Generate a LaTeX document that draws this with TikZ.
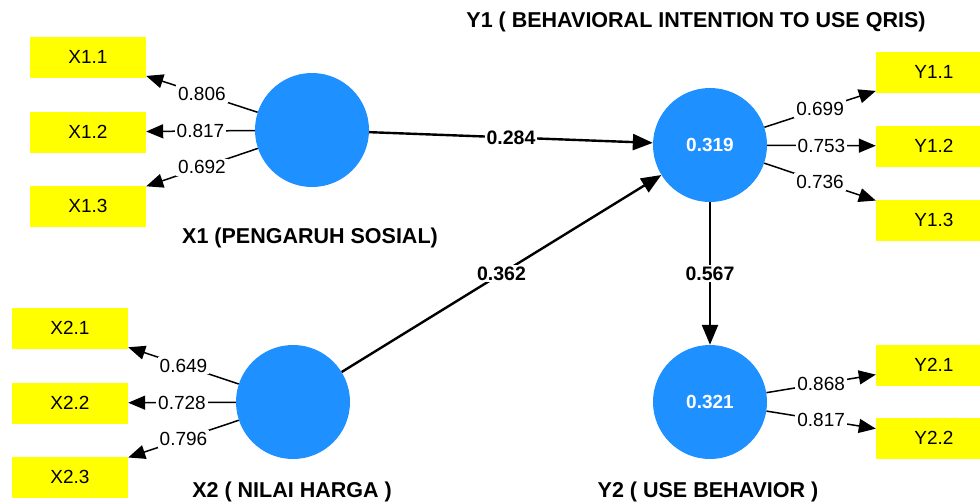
\documentclass[tikz,border=0pt]{standalone}
\usepackage{fontspec}
\setmainfont{Liberation Sans}
\usetikzlibrary{arrows.meta}
\definecolor{latent}{HTML}{1E90FF}
\definecolor{indic}{HTML}{FFFF00}
\tikzset{
  lv/.style={circle, fill=latent, draw=none, minimum size=114pt, inner sep=0pt,
    text=white, font=\fontsize{19}{22}\selectfont\bfseries},
  mv/.style={rectangle, fill=indic, draw=none, minimum width=116pt, minimum height=41pt,
    inner sep=0pt, font=\fontsize{19}{22}\selectfont},
  title/.style={font=\fontsize{21.5}{24}\selectfont\bfseries, inner sep=0pt},
  load/.style={draw=black, line width=1.5pt, -{Triangle[length=17pt,width=14pt]}},
  path/.style={draw=black, line width=2.4pt, -{Triangle[length=20pt,width=16pt]}},
  lbl/.style={fill=white, inner sep=2pt, font=\fontsize{19}{22}\selectfont},
  plbl/.style={fill=white, inner sep=2pt, font=\fontsize{19.5}{22}\selectfont\bfseries},
}
\begin{document}
\begin{tikzpicture}[x=1pt,y=-1pt]
\clip (0,0) rectangle (980,501);
\fill[white] (0,0) rectangle (980,501);
% latent variables
\node[lv] (x1) at (312,130) {};
\node[lv] (x2) at (293,402) {};
\node[lv] (y1) at (710,145) {0.319};
\node[lv] (y2) at (710,402) {0.321};
% indicators
\node[mv] (x11) at (88,57) {X1.1};
\node[mv] (x12) at (88,132) {X1.2};
\node[mv] (x13) at (88,206) {X1.3};
\node[mv] (x21) at (70,328) {X2.1};
\node[mv] (x22) at (70,403) {X2.2};
\node[mv] (x23) at (70,477) {X2.3};
\node[mv] (y11) at (934,72) {Y1.1};
\node[mv] (y12) at (934,146) {Y1.2};
\node[mv] (y13) at (934,220) {Y1.3};
\node[mv] (y21) at (934,365) {Y2.1};
\node[mv] (y22) at (934,438) {Y2.2};
% titles
\node[title] (tx1) at (310,238) {X1 (PENGARUH SOSIAL)};
\node[title] (tx2) at (292,492) {X2 ( NILAI HARGA )};
\node[title] (ty1) at (696,22) {Y1 ( BEHAVIORAL INTENTION TO USE QRIS)};
\node[title] (ty2) at (708,492) {Y2 ( USE BEHAVIOR )};
% loadings
\draw[load] (x1) -- node[lbl] {0.806} (x11);
\draw[load] (x1) -- node[lbl] {0.817} (x12);
\draw[load] (x1) -- node[lbl] {0.692} (x13);
\draw[load] (x2) -- node[lbl] {0.649} (x21);
\draw[load] (x2) -- node[lbl] {0.728} (x22);
\draw[load] (x2) -- node[lbl] {0.796} (x23);
\draw[load] (y1) -- node[lbl] {0.699} (y11);
\draw[load] (y1) -- node[lbl] {0.753} (y12);
\draw[load] (y1) -- node[lbl] {0.736} (y13);
\draw[load] (y2) -- node[lbl] {0.868} (y21);
\draw[load] (y2) -- node[lbl] {0.817} (y22);
% structural paths
\draw[path] (x1) -- node[plbl] {0.284} (y1);
\draw[path] (x2) -- node[plbl] {0.362} (y1);
\draw[path] (y1) -- node[plbl] {0.567} (y2);
\end{tikzpicture}
\end{document}
